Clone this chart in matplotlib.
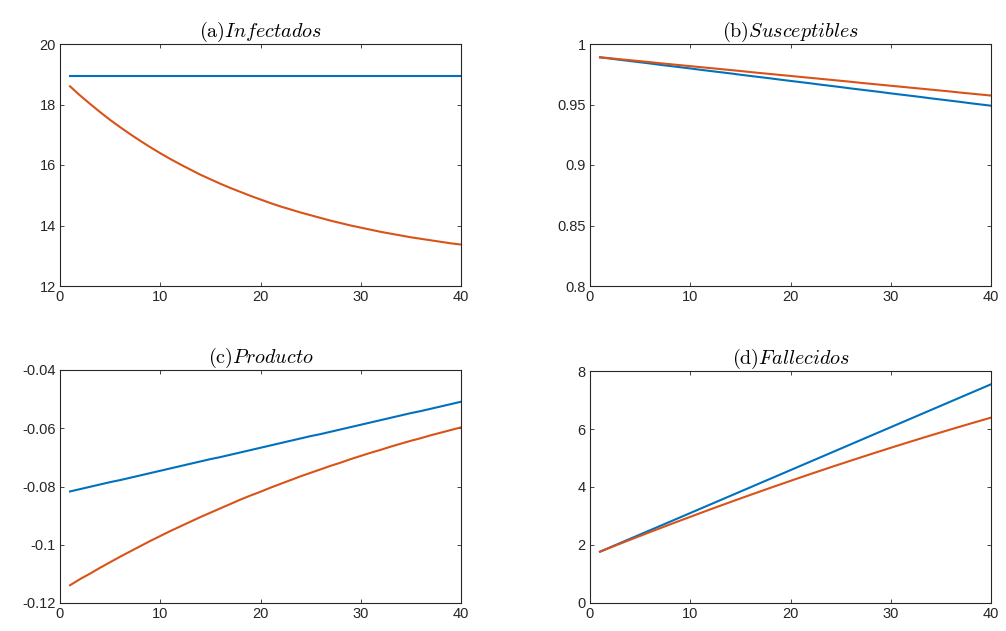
import matplotlib
import matplotlib.pyplot as plt
from matplotlib.ticker import FuncFormatter

matplotlib.use("Agg")

plt.rcParams["font.family"] = ["Liberation Sans", "DejaVu Sans"]
plt.rcParams["mathtext.fontset"] = "cm"
plt.rcParams["axes.unicode_minus"] = False

periods = list(range(1, 41))

# (a) Infectados
infect_base = [18.93] * 40
infect_policy = [18.60, 18.30, 18.02, 17.75, 17.49, 17.25, 17.02, 16.80, 16.59, 16.39,
                 16.20, 16.02, 15.85, 15.68, 15.53, 15.38, 15.24, 15.11, 14.98, 14.86,
                 14.74, 14.63, 14.53, 14.43, 14.34, 14.25, 14.16, 14.08, 14.00, 13.93,
                 13.86, 13.79, 13.73, 13.67, 13.61, 13.56, 13.51, 13.46, 13.41, 13.37]

# (b) Susceptibles
susc_base = [0.9890, 0.9880, 0.9869, 0.9859, 0.9849, 0.9839, 0.9828, 0.9818, 0.9808, 0.9798,
             0.9787, 0.9777, 0.9767, 0.9757, 0.9746, 0.9736, 0.9726, 0.9716, 0.9705, 0.9695,
             0.9685, 0.9675, 0.9664, 0.9654, 0.9644, 0.9633, 0.9623, 0.9613, 0.9603, 0.9592,
             0.9582, 0.9572, 0.9562, 0.9551, 0.9541, 0.9531, 0.9521, 0.9510, 0.9500, 0.9490]
susc_policy = [0.9890, 0.9882, 0.9874, 0.9866, 0.9858, 0.9850, 0.9841, 0.9833, 0.9825, 0.9817,
               0.9809, 0.9801, 0.9793, 0.9785, 0.9777, 0.9768, 0.9760, 0.9752, 0.9744, 0.9736,
               0.9728, 0.9720, 0.9712, 0.9704, 0.9696, 0.9688, 0.9679, 0.9671, 0.9663, 0.9655,
               0.9647, 0.9639, 0.9631, 0.9623, 0.9615, 0.9607, 0.9598, 0.9590, 0.9582, 0.9574]

# (c) Producto
prod_base = [-0.0817, -0.0809, -0.0801, -0.0793, -0.0785, -0.0778, -0.0770, -0.0762, -0.0754, -0.0746,
             -0.0738, -0.0730, -0.0722, -0.0714, -0.0706, -0.0699, -0.0691, -0.0683, -0.0675, -0.0667,
             -0.0659, -0.0651, -0.0643, -0.0635, -0.0627, -0.0620, -0.0612, -0.0604, -0.0596, -0.0588,
             -0.0580, -0.0572, -0.0564, -0.0556, -0.0548, -0.0541, -0.0533, -0.0525, -0.0517, -0.0509]
prod_policy = [-0.1139, -0.1118, -0.1099, -0.1079, -0.1060, -0.1041, -0.1023, -0.1005, -0.0987, -0.0970,
               -0.0953, -0.0937, -0.0921, -0.0905, -0.0890, -0.0875, -0.0860, -0.0845, -0.0831, -0.0818,
               -0.0804, -0.0791, -0.0778, -0.0765, -0.0753, -0.0741, -0.0729, -0.0718, -0.0706, -0.0695,
               -0.0684, -0.0674, -0.0663, -0.0653, -0.0643, -0.0634, -0.0624, -0.0615, -0.0606, -0.0597]

# (d) Fallecidos
dead_base = [1.770, 1.918, 2.066, 2.214, 2.362, 2.510, 2.658, 2.806, 2.954, 3.102,
             3.250, 3.398, 3.546, 3.694, 3.842, 3.990, 4.138, 4.286, 4.434, 4.582,
             4.730, 4.878, 5.026, 5.174, 5.322, 5.470, 5.618, 5.766, 5.914, 6.062,
             6.210, 6.358, 6.506, 6.654, 6.802, 6.950, 7.098, 7.246, 7.394, 7.542]
dead_policy = [1.770, 1.908, 2.044, 2.180, 2.314, 2.448, 2.580, 2.712, 2.842, 2.972,
               3.100, 3.228, 3.354, 3.480, 3.604, 3.728, 3.850, 3.972, 4.092, 4.212,
               4.330, 4.448, 4.564, 4.680, 4.794, 4.908, 5.020, 5.132, 5.242, 5.352,
               5.460, 5.568, 5.674, 5.780, 5.884, 5.988, 6.090, 6.192, 6.292, 6.392]

titles = [r"$\mathrm{(a)}Infectados$", r"$\mathrm{(b)}Susceptibles$",
          r"$\mathrm{(c)}Producto$", r"$\mathrm{(d)}Fallecidos$"]
series = [(infect_base, infect_policy), (susc_base, susc_policy),
          (prod_base, prod_policy), (dead_base, dead_policy)]
ylims = [(12, 20), (0.8, 1.0), (-0.12, -0.04), (0, 8)]
yticks = [[12, 14, 16, 18, 20], [0.8, 0.85, 0.9, 0.95, 1.0],
          [-0.12, -0.1, -0.08, -0.06, -0.04], [0, 2, 4, 6, 8]]

W, H = 1006, 631
boxes = [(60, 44, 461, 286), (590, 44, 991, 286),
         (60, 370, 461, 603), (590, 371, 991, 603)]

fig = plt.figure(figsize=(W / 100, H / 100), dpi=100)

for i in range(4):
    x0, y0, x1, y1 = boxes[i]
    ax = fig.add_axes([x0 / W, 1 - y1 / H, (x1 - x0) / W, (y1 - y0) / H])
    base, policy = series[i]
    ax.plot(periods, base, color="#0072BD", lw=1.5)
    ax.plot(periods, policy, color="#D95319", lw=1.5)
    ax.set_xlim(0, 40)
    ax.set_ylim(*ylims[i])
    ax.set_xticks([0, 10, 20, 30, 40])
    ax.set_yticks(yticks[i])
    ax.yaxis.set_major_formatter(FuncFormatter(lambda v, p: "%g" % round(v, 4)))
    ax.tick_params(direction="in", top=True, right=True, length=3, width=0.6,
                   colors="#262626", labelsize=10.5, pad=3)
    for s in ax.spines.values():
        s.set_color("#262626")
        s.set_linewidth(0.8)
    ax.set_title(titles[i], fontsize=14.5, pad=5, color="#000000")

fig.savefig("out.png", dpi=100)
